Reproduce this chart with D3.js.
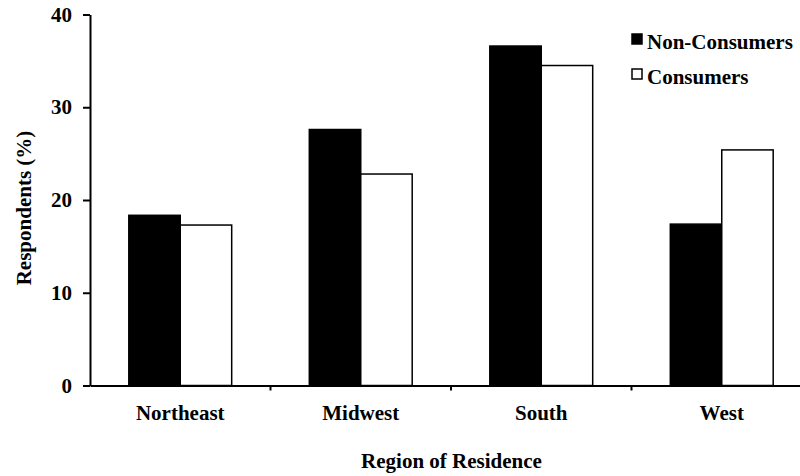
<!DOCTYPE html>
<html>
<head>
<meta charset="utf-8">
<script src="https://cdn.jsdelivr.net/npm/d3@7"></script>
<style>
  body { margin: 0; background: #fff; }
  svg text { font-family: "Liberation Serif", "Times New Roman", serif; font-weight: bold; fill: #000; }
</style>
</head>
<body>
<div id="chart"></div>
<script>
// Data
const regions = ['Northeast', 'Midwest', 'South', 'West']
const nonConsumers = [18.35, 27.6, 36.6, 17.4]
const consumers = [17.3, 22.8, 34.5, 25.4]
const seriesNames = ['Non-Consumers', 'Consumers']
const yTicks = [0, 10, 20, 30, 40]

function draw() {
  const dimensions = {
    width: 800,
    height: 476,
    left: 90,
    right: 812,
    top: 14.5,
    bottom: 385.5,
  }

  const svg = d3.select('#chart')
    .append('svg')
    .attr('width', dimensions.width)
    .attr('height', dimensions.height)

  // Scales
  const xScale = d3.scaleBand()
    .domain(regions)
    .range([dimensions.left, dimensions.right])
    .paddingInner(0.43)
    .paddingOuter(0.215)

  const yScale = d3.scaleLinear()
    .domain([0, 40])
    .range([dimensions.bottom, dimensions.top])

  const subScale = d3.scaleBand()
    .domain(seriesNames)
    .range([0, xScale.bandwidth()])

  const fillScale = d3.scaleOrdinal()
    .domain(seriesNames)
    .range(['#000', '#fff'])

  const rows = regions.map((r, i) => ({
    region: r,
    values: [
      { key: seriesNames[0], value: nonConsumers[i] },
      { key: seriesNames[1], value: consumers[i] },
    ]
  }))

  // Bars
  svg.append('g')
    .selectAll('g')
    .data(rows)
    .join('g')
    .attr('transform', d => `translate(${xScale(d.region)},0)`)
    .selectAll('rect')
    .data(d => d.values)
    .join('rect')
    .attr('x', d => subScale(d.key))
    .attr('y', d => yScale(d.value))
    .attr('width', subScale.bandwidth())
    .attr('height', d => yScale(0) - yScale(d.value))
    .attr('fill', d => fillScale(d.key))
    .attr('stroke', '#000')
    .attr('stroke-width', 1.5)

  // Axes
  const xOuter = d3.scaleBand()
    .domain(regions)
    .range([dimensions.left, dimensions.right])

  const xAxis = d3.axisBottom(xOuter)
    .tickValues([])
    .tickSizeOuter(0)
  const xg = svg.append('g')
    .attr('transform', `translate(0,${dimensions.bottom})`)
    .call(xAxis)
  xg.select('.domain').attr('stroke-width', 2)
  xg.selectAll('.sep')
    .data(regions.slice(1))
    .join('line')
    .attr('x1', d => xOuter(d))
    .attr('x2', d => xOuter(d))
    .attr('y1', 0)
    .attr('y2', 5)
    .attr('stroke', '#000')
    .attr('stroke-width', 2)
  xg.selectAll('.lbl')
    .data(regions)
    .join('text')
    .attr('x', d => xOuter(d) + xOuter.bandwidth() / 2)
    .attr('y', 34.5)
    .attr('text-anchor', 'middle')
    .attr('font-size', 21)
    .text(d => d)

  const yAxis = d3.axisLeft(yScale)
    .tickValues(yTicks)
    .tickSize(7)
    .tickSizeOuter(0)
    .tickPadding(11)
  const yg = svg.append('g')
    .attr('transform', `translate(${dimensions.left},0)`)
    .call(yAxis)
  yg.select('.domain').attr('stroke-width', 2)
  yg.selectAll('.tick line').attr('stroke-width', 2)
  yg.selectAll('.tick text')
    .attr('font-size', 21)

  // Axis titles
  svg.append('text')
    .attr('transform', 'translate(31,208) rotate(-90)')
    .attr('text-anchor', 'middle')
    .attr('font-size', 21)
    .text('Respondents (%)')

  svg.append('text')
    .attr('x', 451.5)
    .attr('y', 468)
    .attr('text-anchor', 'middle')
    .attr('font-size', 21)
    .text('Region of Residence')

  // Legend
  const legend = svg.append('g')
    .selectAll('g')
    .data(seriesNames)
    .join('g')
    .attr('transform', (d, i) => `translate(632,${34 + i * 35})`)
  legend.append('rect')
    .attr('width', 10)
    .attr('height', 10)
    .attr('fill', d => fillScale(d))
    .attr('stroke', '#000')
    .attr('stroke-width', 1.5)
  legend.append('text')
    .attr('x', 15)
    .attr('y', 15)
    .attr('font-size', 21)
    .text(d => d)
}

draw()
</script>
</body>
</html>
